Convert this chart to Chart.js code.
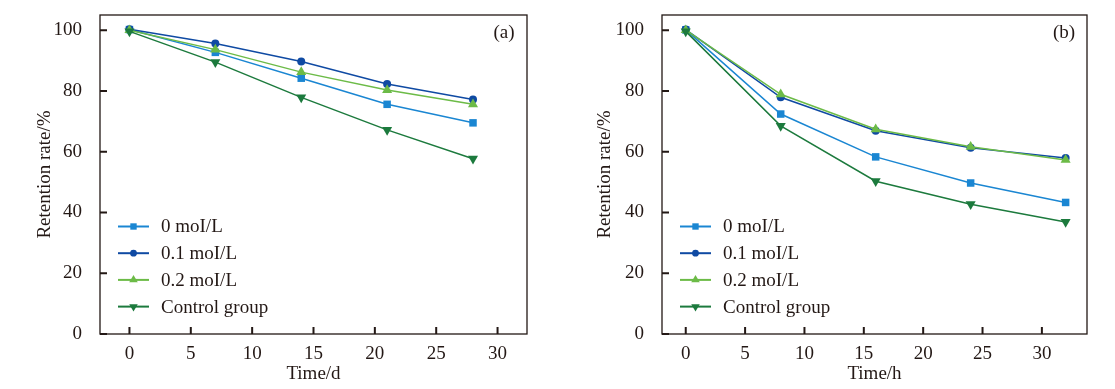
<!DOCTYPE html>
<html>
<head>
<meta charset="utf-8">
<script src="https://cdn.jsdelivr.net/npm/chart.js@4"></script>
<style>
  body { margin: 0; background: #fff; }
  .wrap { position: absolute; top: 0; height: 389px; }
</style>
</head>
<body>
<div class="wrap" style="left:0;width:557px"><canvas id="chart-a" width="557" height="389"></canvas></div>
<div class="wrap" style="left:557px;width:558px"><canvas id="chart-b" width="558" height="389"></canvas></div>
<script>
// panel (a): storage in days
const daysA = [0, 7, 14, 21, 28];
const a0mol = [100.2, 92.7, 84.2, 75.6, 69.5];
const a01mol = [100.3, 95.6, 89.7, 82.3, 77.2];
const a02mol = [100.0, 93.6, 86.2, 80.3, 75.6];
const aControl = [99.6, 89.5, 77.9, 67.2, 57.7];

// panel (b): storage in hours
const hoursB = [0, 8, 16, 24, 32];
const b0mol = [100.1, 72.4, 58.3, 49.7, 43.3];
const b01mol = [100.2, 77.9, 66.9, 61.3, 57.9];
const b02mol = [100.0, 78.9, 67.4, 61.6, 57.3];
const bControl = [99.6, 68.5, 50.3, 42.7, 36.9];

const seriesNames = ['0 moI/L', '0.1 moI/L', '0.2 moI/L', 'Control group'];
const xTicks = [0, 5, 10, 15, 20, 25, 30];
const yTicks = [0, 20, 40, 60, 80, 100];

const COLORS = ['#1a86d2', '#0f4aa3', '#6cbb47', '#1c7a3d'];
const STYLES = [
  { pointStyle: 'rect', radius: 5.3, rotation: 0 },
  { pointStyle: 'circle', radius: 4, rotation: 0 },
  { pointStyle: 'triangle', radius: 5.8, rotation: 0 },
  { pointStyle: 'triangle', radius: 5.8, rotation: 180 },
];
const FONT = 'Liberation Serif';
const FS = 19;

function pairs(xs, ys) {
  return xs.map((x, i) => ({ x, y: ys[i] }));
}

// box frame, inward ticks, legend inside the plot, panel tag
const framePlugin = {
  id: 'frame',
  beforeDatasetsDraw(chart) {
    const { ctx, chartArea: a, scales } = chart;
    ctx.save();
    ctx.strokeStyle = '#231815';
    ctx.lineWidth = 1.3;
    ctx.strokeRect(a.left, a.top, a.right - a.left, a.bottom - a.top);
    ctx.lineWidth = 2;
    ctx.beginPath();
    xTicks.forEach(v => {
      const px = scales.x.getPixelForValue(v);
      ctx.moveTo(px, a.bottom);
      ctx.lineTo(px, a.bottom - 7);
    });
    yTicks.forEach(v => {
      const py = scales.y.getPixelForValue(v);
      ctx.moveTo(a.left, py);
      ctx.lineTo(a.left + 7, py);
    });
    ctx.stroke();
    ctx.restore();
  },
  afterDraw(chart, args, opts) {
    const { ctx, chartArea: a } = chart;
    ctx.save();
    ctx.font = FS + 'px "' + FONT + '"';
    ctx.fillStyle = '#231815';
    ctx.textBaseline = 'middle';
    ctx.textAlign = 'center';
    ctx.fillText(opts.tag, a.right - 23, a.top + 18);
    ctx.textAlign = 'left';
    chart.data.datasets.forEach((ds, i) => {
      const y = 226.5 + i * 26.7;
      const x0 = a.left + 18;
      ctx.strokeStyle = ds.borderColor;
      ctx.lineWidth = 2;
      ctx.beginPath();
      ctx.moveTo(x0, y);
      ctx.lineTo(x0 + 31, y);
      ctx.stroke();
      ctx.fillStyle = ds.borderColor;
      Chart.helpers.drawPoint(ctx, {
        pointStyle: ds.pointStyle,
        radius: ds.pointRadius * 0.85,
        rotation: ds.pointRotation,
        borderWidth: 0,
      }, x0 + 15.5, y);
      ctx.fillStyle = '#231815';
      ctx.fillText(ds.label, x0 + 43, y + 1);
    });
    ctx.restore();
  },
};

function makeChart(id, xs, series, opt) {
  const datasets = series.map((ys, i) => ({
    label: seriesNames[i],
    data: pairs(xs, ys),
    borderColor: COLORS[i],
    backgroundColor: COLORS[i],
    borderWidth: 1.5,
    pointStyle: STYLES[i].pointStyle,
    pointRadius: STYLES[i].radius,
    pointRotation: STYLES[i].rotation,
    pointBorderWidth: 0,
    tension: 0,
    order: 4 - i,
  }));
  return new Chart(document.getElementById(id), {
    type: 'line',
    data: { datasets },
    options: {
      responsive: false,
      animation: false,
      layout: { padding: { left: opt.padLeft, right: opt.padRight, top: 15, bottom: 4 } },
      plugins: {
        legend: { display: false },
        tooltip: { enabled: false },
        frame: { tag: opt.tag },
      },
      scales: {
        x: {
          type: 'linear',
          min: opt.xMin,
          max: opt.xMax,
          grid: { display: false },
          border: { display: false },
          afterBuildTicks: s => { s.ticks = xTicks.map(v => ({ value: v })); },
          afterFit: s => { s.height = 51; s.paddingLeft = 0; s.paddingRight = 0; },
          ticks: { color: '#231815', font: { family: FONT, size: FS }, padding: 1, maxRotation: 0 },
          title: { display: true, text: opt.xTitle, color: '#231815', font: { family: FONT, size: FS }, padding: 0 },
        },
        y: {
          min: 0,
          max: 105,
          grid: { display: false },
          border: { display: false },
          afterBuildTicks: s => { s.ticks = yTicks.map(v => ({ value: v })); },
          afterFit: s => { s.width = opt.yWidth; s.paddingTop = 0; s.paddingBottom = 0; },
          ticks: { color: '#231815', font: { family: FONT, size: FS }, padding: 10 },
          title: { display: true, text: 'Retention rate/%', color: '#231815', font: { family: FONT, size: FS }, padding: 0 },
        },
      },
    },
    plugins: [framePlugin],
  });
}

makeChart('chart-a', daysA, [a0mol, a01mol, a02mol, aControl], {
  tag: '(a)', xTitle: 'Time/d', xMin: -2.4, xMax: 32.4, padLeft: 34, padRight: 30, yWidth: 66,
});
makeChart('chart-b', hoursB, [b0mol, b01mol, b02mol, bControl], {
  tag: '(b)', xTitle: 'Time/h', xMin: -2, xMax: 33.8, padLeft: 37, padRight: 28, yWidth: 68,
});
</script>
</body>
</html>
